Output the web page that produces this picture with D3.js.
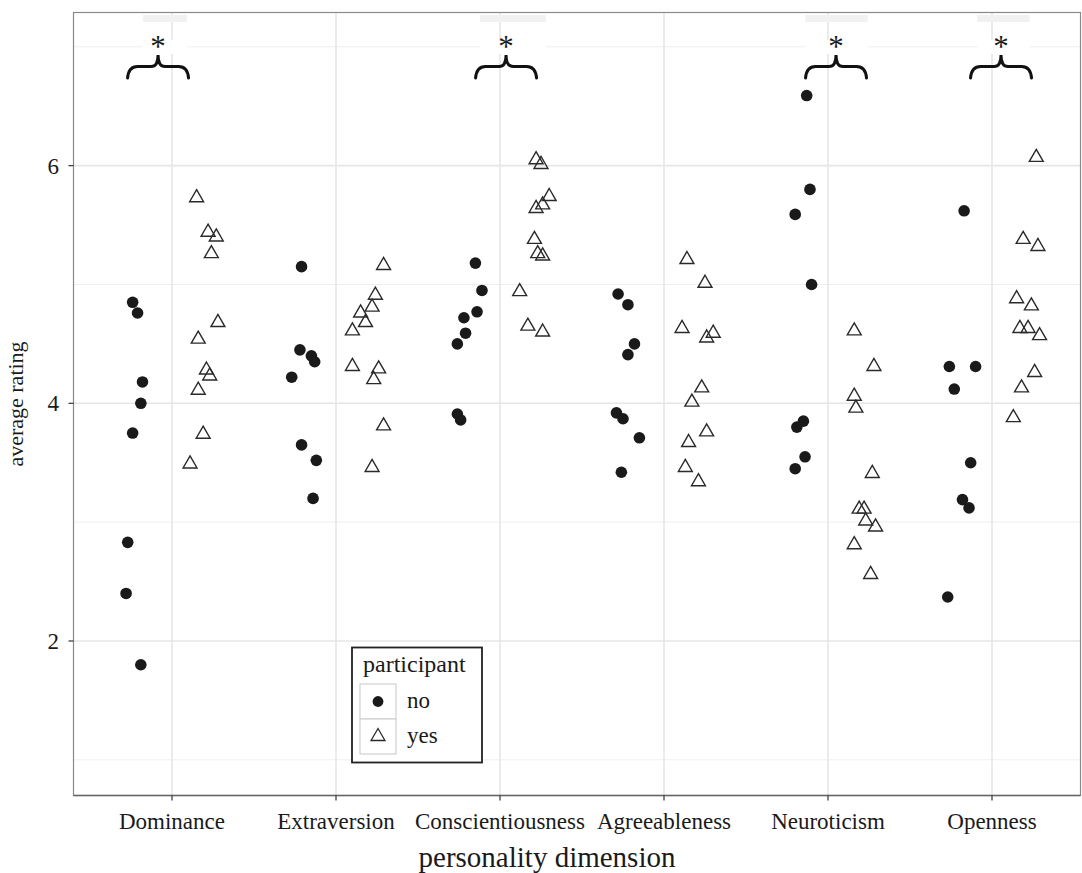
<!DOCTYPE html>
<html>
<head>
<meta charset="utf-8">
<script src="https://cdn.jsdelivr.net/npm/d3@7"></script>
<style>
  body { margin: 0; background: #fff; }
  text { font-family: 'Liberation Serif', 'DejaVu Serif', serif; fill: #1a1a1a; }
</style>
</head>
<body>
<div id="chart"></div>
<script>
const categories = ['Dominance', 'Extraversion', 'Conscientiousness', 'Agreeableness', 'Neuroticism', 'Openness']

// participant = no (ratings, jitter in category steps)
const noValues = [
  [4.85, 4.76, 4.18, 4.00, 3.75, 2.83, 2.40, 1.80],
  [5.15, 4.45, 4.40, 4.35, 4.22, 3.65, 3.52, 3.20],
  [5.18, 4.95, 4.77, 4.72, 4.59, 4.50, 3.91, 3.86],
  [4.92, 4.83, 4.50, 4.41, 3.92, 3.87, 3.71, 3.42],
  [6.59, 5.80, 5.59, 5.00, 3.85, 3.80, 3.55, 3.45],
  [5.62, 4.31, 4.31, 4.12, 3.50, 3.19, 3.12, 2.37]
]
const noJitter = [
  [-0.24, -0.21, -0.18, -0.19, -0.24, -0.27, -0.28, -0.19],
  [-0.21, -0.22, -0.15, -0.13, -0.27, -0.21, -0.12, -0.14],
  [-0.15, -0.11, -0.14, -0.22, -0.21, -0.26, -0.26, -0.24],
  [-0.28, -0.22, -0.18, -0.22, -0.29, -0.25, -0.15, -0.26],
  [-0.13, -0.11, -0.20, -0.10, -0.15, -0.19, -0.14, -0.20],
  [-0.17, -0.26, -0.10, -0.23, -0.13, -0.18, -0.14, -0.27]
]

// participant = yes
const yesValues = [
  [5.73, 5.44, 5.40, 5.26, 4.68, 4.54, 4.28, 4.23, 4.11, 3.74, 3.49],
  [5.16, 4.91, 4.81, 4.76, 4.68, 4.61, 4.31, 4.29, 4.20, 3.81, 3.46],
  [6.05, 6.01, 5.74, 5.67, 5.64, 5.38, 5.26, 5.24, 4.94, 4.65, 4.60],
  [5.21, 5.01, 4.63, 4.59, 4.55, 4.13, 4.01, 3.76, 3.67, 3.46, 3.34],
  [4.61, 4.31, 4.06, 3.96, 3.41, 3.11, 3.11, 3.01, 2.96, 2.81, 2.56],
  [6.07, 5.38, 5.32, 4.88, 4.82, 4.63, 4.63, 4.57, 4.26, 4.13, 3.88]
]
const yesJitter = [
  [0.15, 0.22, 0.27, 0.24, 0.28, 0.16, 0.21, 0.23, 0.16, 0.19, 0.11],
  [0.29, 0.24, 0.22, 0.15, 0.18, 0.10, 0.10, 0.26, 0.23, 0.29, 0.22],
  [0.22, 0.25, 0.30, 0.26, 0.22, 0.21, 0.23, 0.26, 0.12, 0.17, 0.26],
  [0.14, 0.25, 0.11, 0.30, 0.26, 0.23, 0.17, 0.26, 0.15, 0.13, 0.21],
  [0.16, 0.28, 0.16, 0.17, 0.27, 0.19, 0.22, 0.23, 0.29, 0.16, 0.26],
  [0.27, 0.19, 0.28, 0.15, 0.24, 0.17, 0.22, 0.29, 0.26, 0.18, 0.13]
]

// significance braces
const braceCats = ['Dominance', 'Conscientiousness', 'Neuroticism', 'Openness']
const braceOffset = [-0.085, 0.037, 0.049, 0.055]
const labelOffset = [-0.043, 0.079, 0.052, 0.07]
const labelHalf = [0.134, 0.2, 0.19, 0.16]

const yTicks = [2, 4, 6]
const yMinor = [1, 3, 5, 7]

const W = 1082
const H = 873
const panel = { left: 73.5, top: 12.5, right: 1080.5, bottom: 795.5 }

const svg = d3.select('#chart').append('svg')
  .attr('width', W)
  .attr('height', H)

const x = d3.scalePoint()
  .domain(categories)
  .range([73.6, 1090.4])
  .padding(0.6)
const step = x.step()

const y = d3.scaleLinear()
  .domain([0.704, 7.293])
  .range([795, 12])

const grid = svg.append('g')

grid.selectAll('.minor')
  .data(yMinor)
  .enter().append('line')
  .attr('x1', panel.left).attr('x2', panel.right)
  .attr('y1', d => y(d)).attr('y2', d => y(d))
  .attr('stroke', '#efefef')
  .attr('stroke-width', 1)

grid.selectAll('.major')
  .data(yTicks)
  .enter().append('line')
  .attr('x1', panel.left).attr('x2', panel.right)
  .attr('y1', d => y(d)).attr('y2', d => y(d))
  .attr('stroke', '#e6e6e6')
  .attr('stroke-width', 1.6)

grid.selectAll('.vmajor')
  .data(categories)
  .enter().append('line')
  .attr('x1', d => x(d)).attr('x2', d => x(d))
  .attr('y1', panel.top).attr('y2', panel.bottom)
  .attr('stroke', '#e6e6e6')
  .attr('stroke-width', 1.6)

// faint label boxes above the braces
const labels = svg.append('g')
braceCats.forEach((c, i) => {
  const cx = x(c) + labelOffset[i] * step
  const hw = labelHalf[i] * step
  labels.append('rect')
    .attr('x', cx - hw).attr('width', 2 * hw)
    .attr('y', y(7) - 7).attr('height', 14)
    .attr('fill', '#fff')
  labels.append('rect')
    .attr('x', cx - hw).attr('width', 2 * hw)
    .attr('y', 15).attr('height', 7)
    .attr('fill', '#f1f1f1')
})

// braces and asterisks
function bracePath (cx, hw) {
  const yb = 78
  const ym = 66.5
  const yt = 55
  return 'M' + (cx - hw) + ',' + yb +
    ' Q' + (cx - hw + 1) + ',' + ym + ' ' + (cx - hw + 10) + ',' + ym +
    ' L' + (cx - 7) + ',' + ym +
    ' Q' + cx + ',' + ym + ' ' + cx + ',' + yt +
    ' Q' + cx + ',' + ym + ' ' + (cx + 7) + ',' + ym +
    ' L' + (cx + hw - 10) + ',' + ym +
    ' Q' + (cx + hw - 1) + ',' + ym + ' ' + (cx + hw) + ',' + yb
}

braceCats.forEach((c, i) => {
  const cx = x(c) + braceOffset[i] * step
  svg.append('path')
    .attr('d', bracePath(cx, 0.186 * step))
    .attr('fill', 'none')
    .attr('stroke', '#111')
    .attr('stroke-width', 3)
    .attr('stroke-linecap', 'round')
  svg.append('text')
    .attr('x', cx)
    .attr('y', 57)
    .attr('text-anchor', 'middle')
    .attr('font-size', 31)
    .text('*')
})

// points
const noPts = []
const yesPts = []
categories.forEach((c, i) => {
  noValues[i].forEach((v, j) => noPts.push({ cat: c, value: v, jit: noJitter[i][j] }))
  yesValues[i].forEach((v, j) => yesPts.push({ cat: c, value: v, jit: yesJitter[i][j] }))
})

svg.append('g')
  .selectAll('circle')
  .data(noPts)
  .enter().append('circle')
  .attr('cx', d => x(d.cat) + d.jit * step)
  .attr('cy', d => y(d.value))
  .attr('r', 5.8)
  .attr('fill', '#1a1a1a')

const tri = d3.symbol().type(d3.symbolTriangle).size(84)

svg.append('g')
  .selectAll('path')
  .data(yesPts)
  .enter().append('path')
  .attr('d', tri)
  .attr('transform', d => 'translate(' + (x(d.cat) + d.jit * step) + ',' + y(d.value) + ')')
  .attr('fill', 'none')
  .attr('stroke', '#2a2a2a')
  .attr('stroke-width', 1.4)

// panel border
svg.append('rect')
  .attr('x', panel.left).attr('y', panel.top)
  .attr('width', panel.right - panel.left)
  .attr('height', panel.bottom - panel.top)
  .attr('fill', 'none')
  .attr('stroke', '#8a8a8a')
  .attr('stroke-width', 1.2)

svg.append('line')
  .attr('x1', panel.left).attr('x2', panel.right)
  .attr('y1', panel.bottom).attr('y2', panel.bottom)
  .attr('stroke', '#666')
  .attr('stroke-width', 1.6)

// axes
const xAxis = svg.append('g')
xAxis.selectAll('line')
  .data(categories)
  .enter().append('line')
  .attr('x1', d => x(d)).attr('x2', d => x(d))
  .attr('y1', panel.bottom).attr('y2', panel.bottom + 5)
  .attr('stroke', '#333')
  .attr('stroke-width', 1.2)
xAxis.selectAll('text')
  .data(categories)
  .enter().append('text')
  .attr('x', d => x(d))
  .attr('y', 829)
  .attr('text-anchor', 'middle')
  .attr('font-size', 23)
  .text(d => d)

const yAxis = svg.append('g')
yAxis.selectAll('line')
  .data(yTicks)
  .enter().append('line')
  .attr('x1', panel.left - 5).attr('x2', panel.left)
  .attr('y1', d => y(d)).attr('y2', d => y(d))
  .attr('stroke', '#333')
  .attr('stroke-width', 1.2)
yAxis.selectAll('text')
  .data(yTicks)
  .enter().append('text')
  .attr('x', 59)
  .attr('y', d => y(d))
  .attr('dy', '0.35em')
  .attr('text-anchor', 'end')
  .attr('font-size', 23)
  .text(d => d)

svg.append('text')
  .attr('text-anchor', 'middle')
  .attr('x', 547)
  .attr('y', 867)
  .attr('font-size', 29)
  .text('personality dimension')

svg.append('text')
  .attr('transform', 'translate(23,' + (panel.top + panel.bottom) / 2 + ') rotate(-90)')
  .attr('text-anchor', 'middle')
  .attr('font-size', 22)
  .text('average rating')

// legend
const lg = svg.append('g').attr('transform', 'translate(352,647.5)')
lg.append('rect')
  .attr('width', 130).attr('height', 115)
  .attr('fill', '#fff')
  .attr('stroke', '#222')
  .attr('stroke-width', 1.8)
lg.append('text')
  .attr('x', 11).attr('y', 24)
  .attr('font-size', 24)
  .text('participant')
const keys = ['no', 'yes']
keys.forEach((k, i) => {
  const ky = 36.5 + i * 35
  lg.append('rect')
    .attr('x', 8).attr('y', ky)
    .attr('width', 36).attr('height', 35)
    .attr('fill', '#fff')
    .attr('stroke', '#d0d0d0')
    .attr('stroke-width', 1.2)
  if (k === 'no') {
    lg.append('circle')
      .attr('cx', 26).attr('cy', ky + 17.5)
      .attr('r', 5.4)
      .attr('fill', '#1a1a1a')
  } else {
    lg.append('path')
      .attr('d', tri)
      .attr('transform', 'translate(26,' + (ky + 17.5) + ')')
      .attr('fill', 'none')
      .attr('stroke', '#2a2a2a')
      .attr('stroke-width', 1.3)
  }
  lg.append('text')
    .attr('x', 55).attr('y', ky + 24)
    .attr('font-size', 23)
    .text(k)
})
</script>
</body>
</html>
